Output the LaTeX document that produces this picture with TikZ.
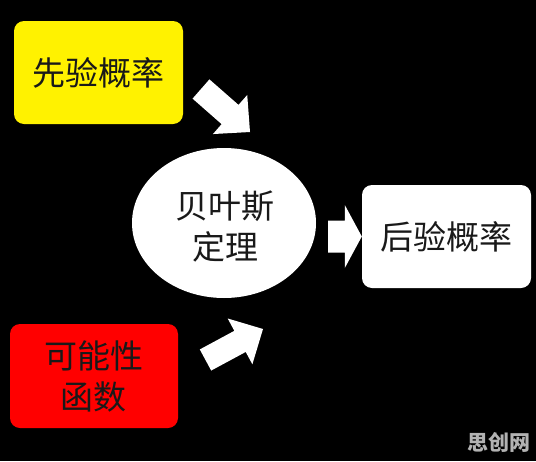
\documentclass[tikz,border=0pt]{standalone}
\usepackage{fontspec}
\setmainfont{Noto Sans CJK SC}
\usetikzlibrary{shapes, positioning, calc}
\tikzset{
    box/.style args={#1 #2}{
        fill=#1, rounded corners=10pt, minimum width=#2, minimum height=103pt,
        inner sep=0pt, align=center
    },
    box/.default={white 169pt}
}
% fat white arrow: from, to, half shaft, half head, head length
\newcommand{\fatarrow}[5]{%
    \fill[white] let \p1=(#1), \p2=(#2),
        \n1={atan2(\y2-\y1,\x2-\x1)}, \n2={veclen(\x2-\x1,\y2-\y1)} in
        ($(\p1)+({\n1+90}:#3)$) -- ($(\p1)+({\n1}:{\n2-#5})+({\n1+90}:#3)$)
        -- ($(\p1)+({\n1}:{\n2-#5})+({\n1+90}:#4)$) -- (\p2)
        -- ($(\p1)+({\n1}:{\n2-#5})+({\n1-90}:#4)$)
        -- ($(\p1)+({\n1}:{\n2-#5})+({\n1-90}:#3)$) -- ($(\p1)+({\n1-90}:#3)$) -- cycle;}

\begin{document}
\begin{tikzpicture}[x=1pt, y=1pt]
    \tikzstyle{every node}=[text=black!90, font=\fontsize{33}{41}\selectfont];
    \fill[black] (0,0) rectangle (536,-461);
    \node[box={yellow 169pt}] (prior) at (98.5,-72.5) {先验概率};
    \node[box={red 168pt}, minimum height=104pt] (likeli) at (94,-376) {可能性\\函数};
    \node[ellipse, fill=white, minimum width=184pt, minimum height=150pt, inner sep=0pt, align=center]
        (bayes) at (224,-223) {};
    \node[align=center] (bayestxt) at (225,-227) {贝叶斯\\定理};
    \node[box] (post) at (446.5,-236.5) {后验概率};
    \coordinate (a1) at (201,-89);
    \coordinate (b1) at (250,-132);
    \coordinate (a2) at (205.5,-360);
    \coordinate (b2) at (263,-329);
    \coordinate (a3) at (328,-236.5);
    \coordinate (b3) at (post.west);
    \fatarrow{a1}{b1}{12.8}{26}{26.5}
    \fatarrow{a2}{b2}{12}{26}{26}
    \fatarrow{a3}{b3}{16}{31.5}{17}
    \node[text=black!30, font=\fontsize{21}{21}\selectfont\bfseries] (mark) at (499,-442) {思创网};
\end{tikzpicture}
\end{document}
